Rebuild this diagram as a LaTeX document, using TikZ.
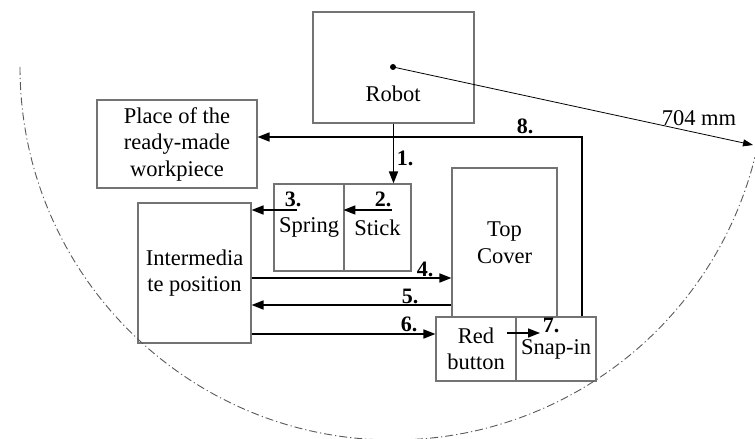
\documentclass[tikz,border=0pt]{standalone}
\usepackage{fontspec}
\setmainfont{Liberation Serif}
\usetikzlibrary{arrows.meta}
\begin{document}
\begin{tikzpicture}[x=1pt,y=1pt,
  box/.style={draw=black!55, line width=1.1pt, inner sep=0pt, align=center, font=\fontsize{22.5}{26.5}\selectfont},
  txt/.style={inner sep=0pt, font=\fontsize{22.5}{26}\selectfont},
  num/.style={inner sep=0pt, font=\fontsize{22}{26}\selectfont\bfseries},
  flow/.style={line width=1.6pt, -{Triangle[length=12pt,width=9pt]}},
]
\useasboundingbox (0,0) rectangle (755,439);
% boxes
\node[box, minimum width=161pt, minimum height=111pt] (robot) at (393.5,371.5) {};
\node[box, minimum width=160pt, minimum height=88pt] (place) at (177,295) {Place of the\\ready-made\\workpiece};
\node[box, minimum width=70pt, minimum height=87pt] (spring) at (309,211.5) {Spring};
\node[box, minimum width=67pt, minimum height=87pt] (stick) at (377.5,211.5) {Stick};
\node[box, minimum width=113pt, minimum height=140pt] (inter) at (194.5,166) {Intermedia\\te position};
\node[box, minimum width=105pt, minimum height=149pt] (top) at (504.5,196.5) {Top\\Cover};
\node[box, minimum width=80pt, minimum height=64pt] (red) at (476,90) {Red\\button};
\node[box, minimum width=80pt, minimum height=64pt] (snap) at (556,90) {Snap-in};
\node[txt] (robottxt) at (393,345.5) {Robot};
% radius
\coordinate (c) at (393,372);
\coordinate (tip) at (753,294);
\draw[black!65, dash pattern=on 8pt off 3pt on 1.2pt off 3pt, line width=0.9pt] (c) ++(180:373) arc[start angle=180, end angle=346, radius=373];
\fill (c) circle (3pt);
\draw[line width=0.8pt, -{Triangle[length=10pt,width=7pt]}] (c) -- (tip);
\node[txt] (mm) at (699,321) {704 mm};
% flows
\draw[flow] (robot.south) -- (robot.south |- stick.north);
\draw[flow] ([shift={(-20pt,17.5pt)}]stick.east) -- ([yshift=17.5pt]stick.west);
\draw[flow] ([shift={(-12pt,17.5pt)}]spring.center) coordinate (a3) -- (a3 -| inter.east);
\draw[flow] ([yshift=-5pt]inter.east) coordinate (a4) -- (a4 -| top.west);
\draw[flow] ([yshift=-32pt]inter.east -| top.west) coordinate (a5) -- (a5 -| inter.east);
\draw[flow] ([yshift=-61pt]inter.east) coordinate (a6) -- (a6 -| red.west);
\draw[flow] ([shift={(31pt,16pt)}]red.center) -- ([shift={(-16pt,16pt)}]snap.center);
\draw[flow] ([xshift=26pt]snap.north) |- ([yshift=7pt]place.east);
% labels
\node[num] (n1) at (405,280.5) {1.};
\node[num] (n2) at (383,239.5) {2.};
\node[num] (n3) at (293,239.5) {3.};
\node[num] (n4) at (425,170) {4.};
\node[num] (n5) at (410,142.5) {5.};
\node[num] (n6) at (409,114.5) {6.};
\node[num] (n7) at (551,113.5) {7.};
\node[num] (n8) at (525,313) {8.};
\end{tikzpicture}
\end{document}
